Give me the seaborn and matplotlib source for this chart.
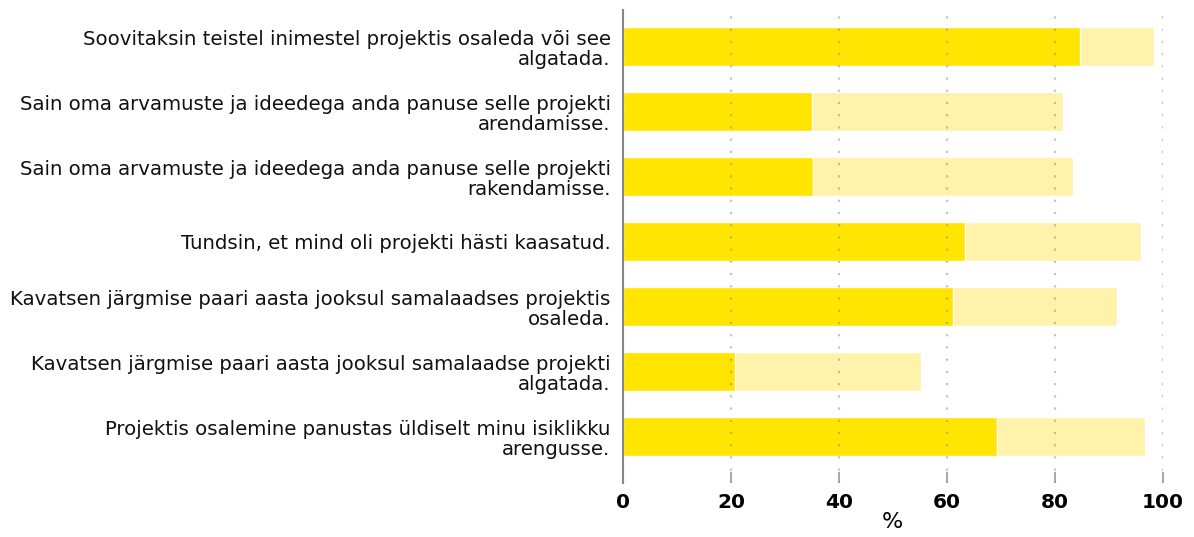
import matplotlib
matplotlib.use('Agg')
import pandas as pd
import matplotlib.pyplot as plt
import seaborn as sns

# Andmed: väited ja vastuste osakaalud (%)
vaited = [
    "Soovitaksin teistel inimestel projektis osaleda või see\nalgatada.",
    "Sain oma arvamuste ja ideedega anda panuse selle projekti\narendamisse.",
    "Sain oma arvamuste ja ideedega anda panuse selle projekti\nrakendamisse.",
    "Tundsin, et mind oli projekti hästi kaasatud.",
    "Kavatsen järgmise paari aasta jooksul samalaadses projektis\nosaleda.",
    "Kavatsen järgmise paari aasta jooksul samalaadse projekti\nalgatada.",
    "Projektis osalemine panustas üldiselt minu isiklikku\narengusse.",
]
taiesti_nous = [84.6, 35.1, 35.2, 63.4, 61.1, 20.8, 69.3]
pigem_nous = [13.8, 46.4, 48.2, 32.5, 30.4, 34.5, 27.4]

df = pd.DataFrame({'vaide': vaited, 'taiesti': taiesti_nous,
                   'pigem': pigem_nous})
df['kokku'] = df['taiesti'] + df['pigem']

sns.set_style('white')
plt.rcParams['font.family'] = ['DejaVu Sans']

fig = plt.figure(figsize=(11.94, 5.37), dpi=100)
ax = fig.add_axes([0.5218, 0.1006, 0.452, 0.881])

# Hele osa (kogusumma) taha, tume osa peale
sns.barplot(data=df, y='vaide', x='kokku', color='#FFF2AA', width=0.6,
            saturation=1, ax=ax, zorder=1)
sns.barplot(data=df, y='vaide', x='taiesti', color='#FFE500', width=0.6,
            saturation=1, ax=ax, zorder=1.5)

ax.set_xlim(0, 100)
ax.set_ylim(6.71, -0.57)
ax.set_xticks([0, 20, 40, 60, 80, 100])
ax.set_axisbelow(False)
ax.grid(axis='x', linestyle=(0, (1, 4.5)), color='#888888', linewidth=1.6,
        alpha=0.5)

for s in ['top', 'right', 'bottom']:
    ax.spines[s].set_visible(False)
ax.spines['left'].set_color('#888888')
ax.spines['left'].set_linewidth(1.5)
ax.spines['left'].set_zorder(6)

ax.tick_params(axis='y', length=0, labelsize=14.2, pad=9, labelcolor='#111111')
ax.tick_params(axis='x', bottom=True, length=8, width=1.2, color='#999999',
               labelsize=14.5, pad=7, direction='in', labelcolor='black')
for t in ax.get_yticklabels():
    t.set_linespacing(1.05)
for t in ax.get_xticklabels():
    t.set_fontweight('bold')

ax.set_ylabel('')
ax.set_xlabel('%', fontsize=16, labelpad=0, color='black')

fig.savefig('out.png', dpi=100)
